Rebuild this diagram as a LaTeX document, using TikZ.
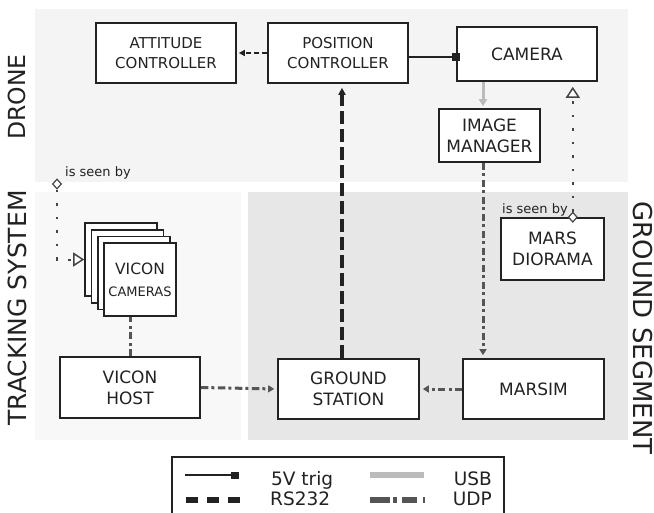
\documentclass[tikz,border=0pt]{standalone}
\usepackage{fontspec}
\setmainfont{DejaVu Sans}
\usetikzlibrary{arrows.meta,shapes.geometric}

\definecolor{ink}{HTML}{222222}
\definecolor{dotgray}{HTML}{444444}
\definecolor{udpgray}{HTML}{555555}
\definecolor{usbgray}{HTML}{BBBBBB}
\definecolor{dronebg}{HTML}{F4F4F4}
\definecolor{trackbg}{HTML}{F8F8F8}
\definecolor{groundbg}{HTML}{E7E7E7}

\begin{document}
\begin{tikzpicture}[x=1pt,y=-1pt,
  block/.style={draw=ink, line width=1.6pt, fill=white, inner sep=0pt,
    align=center, text=ink, font=\fontsize{17}{21}\selectfont},
  ctrl/.style={block, font=\fontsize{15}{20.5}\selectfont},
  region/.style={text=ink, inner sep=0pt},
  diam/.style={shape=diamond, draw=dotgray, fill=white, line width=1.2pt,
    minimum width=9pt, minimum height=10pt, inner sep=0pt},
  tiny/.style={text=ink, inner sep=0pt, font=\fontsize{13}{15}\selectfont},
  legtext/.style={text=ink, inner sep=0pt, font=\fontsize{18.5}{22}\selectfont},
  tip/.style={-{Triangle[length=7pt,width=7pt]}},
  rsthick/.style={draw=ink, line width=3.5pt, dash pattern=on 13pt off 5pt,
    tip, shorten >=4pt},
  rsthin/.style={draw=ink, line width=1.5pt, dash pattern=on 5pt off 3pt,
    -{Triangle[length=6pt,width=6pt]}, shorten >=2pt},
  trig/.style={draw=ink, line width=1.5pt,
    -{Square[length=8pt,width=8pt]}, shorten >=-4pt},
  usb/.style={draw=usbgray, line width=3pt,
    -{Triangle[length=7pt,width=8pt]}, shorten >=2pt},
  udp/.style={draw=udpgray, line width=3pt,
    dash pattern=on 7.5pt off 3pt on 3pt off 3.5pt,
    -{Triangle[length=6pt,width=7pt]}, shorten >=3pt},
  udpplain/.style={draw=udpgray, line width=3pt,
    dash pattern=on 7.5pt off 3pt on 3pt off 3.5pt},
  seen/.style={draw=dotgray, line width=2pt, dash pattern=on 2.5pt off 11pt,
    -{Triangle[length=11pt,width=14pt,fill=white,line width=1.5pt]}},
]
\useasboundingbox (0,0) rectangle (654,512);

% subsystem backgrounds
\fill[dronebg]  (35,9)   rectangle (628,182);
\fill[trackbg]  (35,192) rectangle (241,440);
\fill[groundbg] (248,192) rectangle (628,440);

% subsystem labels
\node[region, rotate=90, font=\fontsize{23.5}{26}\selectfont] (lblDrone) at (17,97) {DRONE};
\node[region, rotate=90, font=\fontsize{25}{28}\selectfont] (lblTrack) at (17,308) {TRACKING SYSTEM};
\node[region, rotate=-90, font=\fontsize{26}{29}\selectfont] (lblGround) at (642.5,328) {GROUND SEGMENT};

% drone components
\node[ctrl, minimum width=140pt, minimum height=60pt] (att) at (166,53) {ATTITUDE\\CONTROLLER};
\node[ctrl, minimum width=140pt, minimum height=60pt] (pos) at (338,53) {POSITION\\CONTROLLER};
\node[block, minimum width=140pt, minimum height=54pt] (cam) at (527,54) {CAMERA};
\node[block, minimum width=101pt, minimum height=53pt] (im) at (489.5,135.5) {IMAGE\\MANAGER};

% ground segment components
\node[block, minimum width=103pt, minimum height=62pt] (mars) at (552.5,249) {MARS\\DIORAMA};
\node[block, minimum width=141pt, minimum height=60pt] (marsim) at (533.5,389) {MARSIM};
\node[block, minimum width=141pt, minimum height=60pt] (gs) at (348.5,389) {GROUND\\STATION};

% tracking system components
\node[block, minimum width=140pt, minimum height=61pt] (vh) at (130,387.5) {VICON\\HOST};
\node[block, minimum width=72pt, minimum height=73pt] (vb3) at (121,259.5) {};
\node[block, minimum width=72pt, minimum height=73pt] (vb2) at (127.3,266.2) {};
\node[block, minimum width=72pt, minimum height=73pt] (vb1) at (133.7,272.8) {};
\node[block, minimum width=72pt, minimum height=73pt] (vicam) at (140,279.5)
  {\fontsize{15.5}{19}\selectfont VICON\\[1pt]\fontsize{13}{16}\selectfont CAMERAS};

% links
\draw[rsthin] (pos.west) -- (att.east);
\coordinate (trigEnd) at ([yshift=-3pt]cam.west);
\draw[trig] (trigEnd -| pos.east) -- (trigEnd);

\coordinate (imtop) at ([xshift=-6.5pt]im.north);
\draw[usb] (imtop |- cam.south) -- (imtop);

\coordinate (imbot) at ([xshift=-6.5pt]im.south);
\draw[udp] (imbot) -- (imbot |- marsim.north);

\coordinate (gstop) at ([xshift=-6.5pt]gs.north);
\draw[rsthick] (gstop) -- (gstop |- pos.south);

\draw[udp] (marsim.west) -- (gs.east);
\draw[udp] (vh.east) -- (gs.west);
\draw[udpplain] (vh.north) -- (vh.north |- vicam.south);

% "is seen by" relations
\node[diam] (dA) at (57,184) {};
\draw[seen] (dA.south) |- (vb3.west);
\node[tiny, anchor=base west] (seenA) at (65,176.5) {is seen by};

\node[diam] (dB) at ([xshift=-32pt]mars.north east) {};
\draw[seen, shorten >=5pt] (dB.north) -- (dB.north |- cam.south);
\node[tiny, anchor=base west] (seenB) at (502,213) {is seen by};

% legend
\draw[ink, line width=1.5pt] (172,516) -- (172,457) -- (504,457) -- (504,516);

\coordinate (trigA) at (185,475);
\coordinate (trigB) at (239,475);
\draw[draw=ink, line width=2pt, -{Square[length=8pt,width=7pt]}] (trigA) -- (trigB);
\node[legtext, anchor=base west] (lgTrig) at (271,485) {5V trig};

\coordinate (rsA) at (186,500);
\coordinate (rsB) at (240,500);
\draw[draw=ink, line width=6pt, dash pattern=on 12pt off 9pt] (rsA) -- (rsB);
\node[legtext, anchor=base west] (lgRs) at (270,505) {RS232};

\coordinate (usbA) at (370,475);
\coordinate (usbB) at (424,475);
\draw[draw=usbgray, line width=6.5pt] (usbA) -- (usbB);
\node[legtext, anchor=base east] (lgUsb) at (492,485) {USB};

\coordinate (udpA) at (370,500);
\coordinate (udpB) at (425,500);
\draw[draw=udpgray, line width=6pt,
  dash pattern=on 20pt off 3pt on 4pt off 5pt on 15pt off 6pt on 2pt off 10pt] (udpA) -- (udpB);
\node[legtext, anchor=base east] (lgUdp) at (492,505) {UDP};
\end{tikzpicture}
\end{document}
